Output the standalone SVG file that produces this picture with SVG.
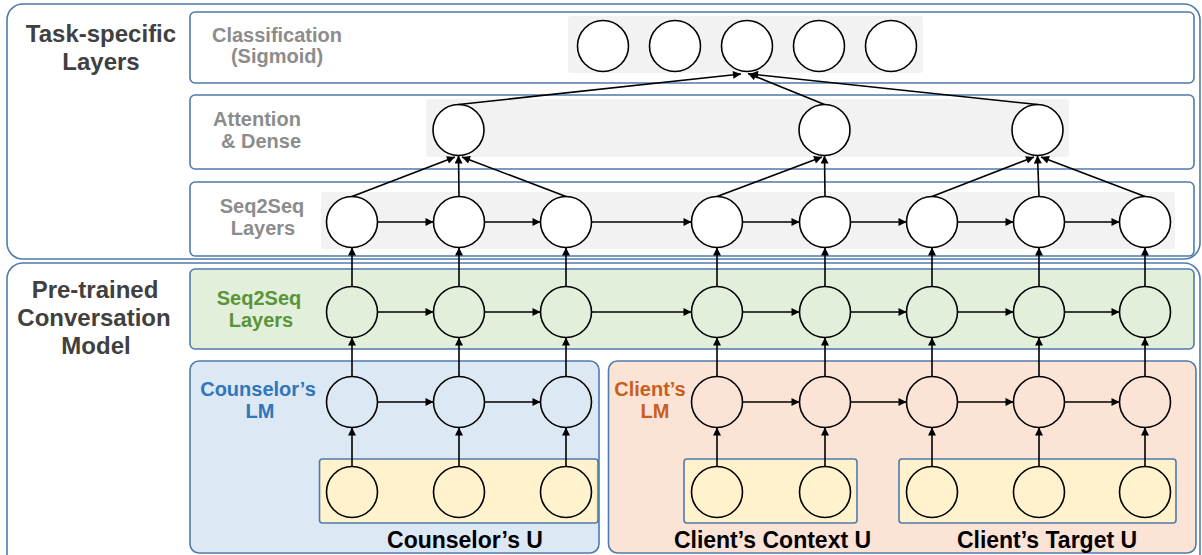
<svg xmlns="http://www.w3.org/2000/svg" width="1202" height="555" viewBox="0 0 1202 555">
<defs>
<style>
.box{stroke:#4f7bab;stroke-width:1.6}
.outer{fill:#fff;stroke:#4f7bab;stroke-width:1.6}
.bg{fill:#f2f2f2}
.c{stroke:#000;stroke-width:1.6}
.w{fill:#fff}
.g{fill:#e2efda}
.b{fill:#dde8f5}
.o{fill:#fbe3d6}
.y{fill:#fff2cc}
text{font-family:"Liberation Sans",Arial,Helvetica,sans-serif;font-weight:bold;text-anchor:middle}
.dark{fill:#404040;font-size:24px}
.gray{fill:#8c8c8c;font-size:20px}
.green{fill:#5a9438;font-size:20px}
.blue{fill:#2f76ba;font-size:20px}
.orange{fill:#c95f1d;font-size:20px}
.blk{fill:#000;font-size:23px}
.conn line{stroke:#000;stroke-width:1.6;marker-end:url(#ah)}
</style>
<marker id="ah" viewBox="0 0 10 10" refX="10" refY="5" markerWidth="9" markerHeight="8" markerUnits="userSpaceOnUse" orient="auto">
<path d="M0,0 L10,5 L0,10 z" fill="#000"/>
</marker>
</defs>

<!-- outer containers -->
<g id="task-specific-container">
<rect class="outer" x="7" y="4" width="1193" height="255" rx="16"/>
<text class="dark" x="101" y="42">Task-specific</text>
<text class="dark" x="101" y="70">Layers</text>
</g>
<g id="pretrained-container">
<rect class="outer" x="7" y="263" width="1193" height="320" rx="16"/>
<text class="dark" x="95" y="298">Pre-trained</text>
<text class="dark" x="94" y="326">Conversation</text>
<text class="dark" x="96" y="354">Model</text>
</g>

<!-- classification layer -->
<g id="classification-layer">
<rect class="box" fill="#fff" x="190" y="12" width="1004" height="71" rx="5"/>
<rect class="bg" x="568" y="16" width="355" height="57" rx="3"/>
<text class="gray" x="277" y="42">Classification</text>
<text class="gray" x="277" y="63">(Sigmoid)</text>
<circle class="c w" cx="603" cy="46" r="25.5"/>
<circle class="c w" cx="675" cy="46" r="25.5"/>
<circle class="c w" cx="747" cy="46" r="25.5"/>
<circle class="c w" cx="819" cy="46" r="25.5"/>
<circle class="c w" cx="891" cy="46" r="25.5"/>
</g>

<!-- attention layer -->
<g id="attention-layer">
<rect class="box" fill="#fff" x="190" y="95" width="1004" height="74" rx="5"/>
<rect class="bg" x="426" y="99" width="643" height="58" rx="3"/>
<text class="gray" x="257" y="126">Attention</text>
<text class="gray" x="261" y="148">&amp; Dense</text>
<circle class="c w" cx="458.5" cy="130" r="25.5"/>
<circle class="c w" cx="824.5" cy="130" r="25.5"/>
<circle class="c w" cx="1037.5" cy="130" r="25.5"/>
</g>

<!-- task seq2seq layer -->
<g id="task-seq2seq-layer">
<rect class="box" fill="#fff" x="190" y="182" width="1004" height="74" rx="5"/>
<rect class="bg" x="321" y="192" width="854" height="57" rx="3"/>
<text class="gray" x="262" y="213">Seq2Seq</text>
<text class="gray" x="263" y="235">Layers</text>
<circle class="c w" cx="352" cy="222" r="25.5"/>
<circle class="c w" cx="459" cy="222" r="25.5"/>
<circle class="c w" cx="566" cy="222" r="25.5"/>
<circle class="c w" cx="717" cy="222" r="25.5"/>
<circle class="c w" cx="825" cy="222" r="25.5"/>
<circle class="c w" cx="932" cy="222" r="25.5"/>
<circle class="c w" cx="1039" cy="222" r="25.5"/>
<circle class="c w" cx="1145" cy="222" r="25.5"/>
</g>

<!-- pre-trained seq2seq layer -->
<g id="pretrained-seq2seq-layer">
<rect class="box g" x="190" y="269" width="1004" height="80" rx="5"/>
<text class="green" x="259" y="305">Seq2Seq</text>
<text class="green" x="261" y="327">Layers</text>
<circle class="c g" cx="352" cy="312" r="25.5"/>
<circle class="c g" cx="459" cy="312" r="25.5"/>
<circle class="c g" cx="566" cy="312" r="25.5"/>
<circle class="c g" cx="717" cy="312" r="25.5"/>
<circle class="c g" cx="825" cy="312" r="25.5"/>
<circle class="c g" cx="932" cy="312" r="25.5"/>
<circle class="c g" cx="1039" cy="312" r="25.5"/>
<circle class="c g" cx="1145" cy="312" r="25.5"/>
</g>

<!-- counselor LM -->
<g id="counselor-lm">
<rect class="box b" x="190" y="361" width="409" height="192" rx="9"/>
<text class="blue" x="258" y="396">Counselor’s</text>
<text class="blue" x="260" y="418">LM</text>
<circle class="c b" cx="352" cy="402" r="25.5"/>
<circle class="c b" cx="459" cy="402" r="25.5"/>
<circle class="c b" cx="566" cy="402" r="25.5"/>
</g>
<g id="counselor-u">
<rect class="box y" x="319.5" y="459" width="278.5" height="64" rx="3"/>
<circle class="c y" cx="352" cy="492" r="25.5"/>
<circle class="c y" cx="459" cy="492" r="25.5"/>
<circle class="c y" cx="566" cy="492" r="25.5"/>
<text class="blk" x="465" y="548">Counselor’s U</text>
</g>

<!-- client LM -->
<g id="client-lm">
<rect class="box o" x="608.5" y="361" width="587.5" height="192" rx="9"/>
<text class="orange" x="650" y="396">Client’s</text>
<text class="orange" x="655" y="418">LM</text>
<circle class="c o" cx="717" cy="402" r="25.5"/>
<circle class="c o" cx="825" cy="402" r="25.5"/>
<circle class="c o" cx="932" cy="402" r="25.5"/>
<circle class="c o" cx="1039" cy="402" r="25.5"/>
<circle class="c o" cx="1145" cy="402" r="25.5"/>
</g>
<g id="client-context-u">
<rect class="box y" x="684" y="459" width="173" height="64" rx="3"/>
<circle class="c y" cx="717" cy="492" r="25.5"/>
<circle class="c y" cx="825" cy="492" r="25.5"/>
<text class="blk" x="772.5" y="548">Client’s Context U</text>
</g>
<g id="client-target-u">
<rect class="box y" x="899" y="459" width="277" height="64" rx="3"/>
<circle class="c y" cx="932" cy="492" r="25.5"/>
<circle class="c y" cx="1039" cy="492" r="25.5"/>
<circle class="c y" cx="1145" cy="492" r="25.5"/>
<text class="blk" x="1047" y="548">Client’s Target U</text>
</g>

<!-- connectors -->
<g id="connectors" class="conn">
<!-- U to LM -->
<line x1="352" y1="466.5" x2="352" y2="427.5"/>
<line x1="459" y1="466.5" x2="459" y2="427.5"/>
<line x1="566" y1="466.5" x2="566" y2="427.5"/>
<line x1="717" y1="466.5" x2="717" y2="427.5"/>
<line x1="825" y1="466.5" x2="825" y2="427.5"/>
<line x1="932" y1="466.5" x2="932" y2="427.5"/>
<line x1="1039" y1="466.5" x2="1039" y2="427.5"/>
<line x1="1145" y1="466.5" x2="1145" y2="427.5"/>
<!-- LM horizontal -->
<line x1="377.5" y1="402" x2="433.5" y2="402"/>
<line x1="484.5" y1="402" x2="540.5" y2="402"/>
<line x1="742.5" y1="402" x2="799.5" y2="402"/>
<line x1="850.5" y1="402" x2="906.5" y2="402"/>
<line x1="957.5" y1="402" x2="1013.5" y2="402"/>
<line x1="1064.5" y1="402" x2="1119.5" y2="402"/>
<!-- LM to pretrained seq2seq -->
<line x1="352" y1="376.5" x2="352" y2="337.5"/>
<line x1="459" y1="376.5" x2="459" y2="337.5"/>
<line x1="566" y1="376.5" x2="566" y2="337.5"/>
<line x1="717" y1="376.5" x2="717" y2="337.5"/>
<line x1="825" y1="376.5" x2="825" y2="337.5"/>
<line x1="932" y1="376.5" x2="932" y2="337.5"/>
<line x1="1039" y1="376.5" x2="1039" y2="337.5"/>
<line x1="1145" y1="376.5" x2="1145" y2="337.5"/>
<!-- pretrained seq2seq horizontal -->
<line x1="377.5" y1="312" x2="433.5" y2="312"/>
<line x1="484.5" y1="312" x2="540.5" y2="312"/>
<line x1="591.5" y1="312" x2="691.5" y2="312"/>
<line x1="742.5" y1="312" x2="799.5" y2="312"/>
<line x1="850.5" y1="312" x2="906.5" y2="312"/>
<line x1="957.5" y1="312" x2="1013.5" y2="312"/>
<line x1="1064.5" y1="312" x2="1119.5" y2="312"/>
<!-- pretrained to task seq2seq -->
<line x1="352" y1="286.5" x2="352" y2="247.5"/>
<line x1="459" y1="286.5" x2="459" y2="247.5"/>
<line x1="566" y1="286.5" x2="566" y2="247.5"/>
<line x1="717" y1="286.5" x2="717" y2="247.5"/>
<line x1="825" y1="286.5" x2="825" y2="247.5"/>
<line x1="932" y1="286.5" x2="932" y2="247.5"/>
<line x1="1039" y1="286.5" x2="1039" y2="247.5"/>
<line x1="1145" y1="286.5" x2="1145" y2="247.5"/>
<!-- task seq2seq horizontal -->
<line x1="377.5" y1="222" x2="433.5" y2="222"/>
<line x1="484.5" y1="222" x2="540.5" y2="222"/>
<line x1="591.5" y1="222" x2="691.5" y2="222"/>
<line x1="742.5" y1="222" x2="799.5" y2="222"/>
<line x1="850.5" y1="222" x2="906.5" y2="222"/>
<line x1="957.5" y1="222" x2="1013.5" y2="222"/>
<line x1="1064.5" y1="222" x2="1119.5" y2="222"/>
<!-- task seq2seq to attention -->
<line x1="352" y1="196.5" x2="455" y2="157"/>
<line x1="459" y1="196.5" x2="458.5" y2="155.5"/>
<line x1="566" y1="196.5" x2="462" y2="157"/>
<line x1="717" y1="196.5" x2="822" y2="157"/>
<line x1="825" y1="196.5" x2="824.5" y2="155.5"/>
<line x1="932" y1="196.5" x2="1034" y2="157"/>
<line x1="1039" y1="196.5" x2="1037.5" y2="155.5"/>
<line x1="1145" y1="196.5" x2="1041" y2="157"/>
<!-- attention to classification -->
<line x1="458.5" y1="104.5" x2="741" y2="74"/>
<line x1="824.5" y1="104.5" x2="748" y2="73.5"/>
<line x1="1037.5" y1="104.5" x2="750" y2="74"/>
</g>
</svg>
